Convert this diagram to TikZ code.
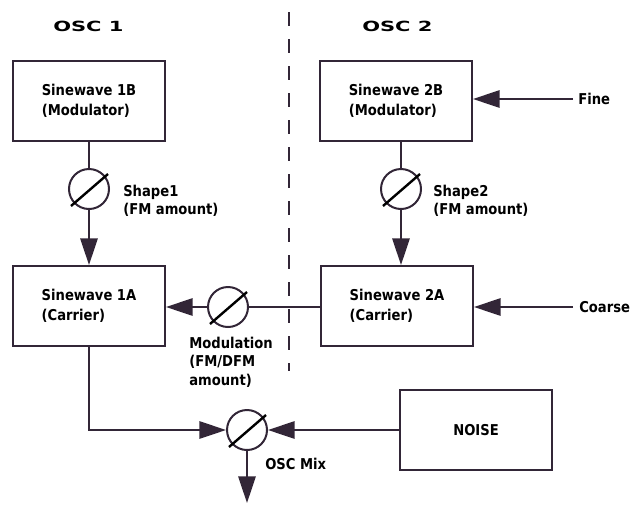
\documentclass[tikz,border=0pt]{standalone}
\usepackage{fontspec}
\setmainfont{DejaVu Sans}[FakeStretch=0.88]
\newfontfamily\oscfont{DejaVu Sans}[FakeStretch=1.5]
\usepackage{tikz}
\usetikzlibrary{arrows.meta}
\definecolor{LineaOsc}{RGB}{50,38,55}

\tikzset{
  caja/.style={draw=LineaOsc,line width=1.5pt,minimum width=114pt,minimum height=60pt,align=left,font=\bfseries\fontsize{11.2}{15}\selectfont},
  pot/.style={circle,draw=LineaOsc,line width=1.5pt,minimum size=30pt,inner sep=0pt},
  barra/.style={black,line width=1.8pt},
  conector/.style={LineaOsc,line width=1.5pt},
  etiqueta/.style={anchor=west,inner sep=0pt,align=left,font=\bfseries\fontsize{11.2}{13.8}\selectfont},
  titulo/.style={anchor=west,inner sep=0pt,font=\oscfont\bfseries\fontsize{10.5}{12}\selectfont}
}

\begin{document}
\begin{tikzpicture}[x=0.75pt,y=-0.75pt,>={Triangle[length=20pt,width=13pt]}]
  \useasboundingbox (0,0) rectangle (634,504);

  % Oscilador 1
  \node[titulo] (osc1) at (53,26) {OSC 1};
  \node[caja] (sen1B) at (89,101) {Sinewave 1B\\(Modulator)};
  \node[pot] (pot1) at (89,189) {};
  \node[etiqueta] (shape1) at (123,201) {Shape1\\(FM amount)};
  \node[caja] (sen1A) at (89,306) {Sinewave 1A\\(Carrier)};
  \draw[conector] (sen1B) -- (pot1);
  \draw[conector,->] (pot1) -- (sen1A);

  % Separador
  \draw[conector,dash pattern=on 10.5pt off 9.75pt] (289,12) -- (289,371);

  % Oscilador 2
  \node[titulo] (osc2) at (362,26) {OSC 2};
  \node[caja] (sen2B) at (396,101) {Sinewave 2B\\(Modulator)};
  \node[pot] (pot2) at (401,189) {};
  \node[etiqueta] (shape2) at (433,201) {Shape2\\(FM amount)};
  \node[caja] (sen2A) at (397,306) {Sinewave 2A\\(Carrier)};
  \node[etiqueta] (fine) at (578,99) {Fine};
  \node[etiqueta] (coarse) at (579,307) {Coarse};
  \coordinate (fineIn) at (573,99);
  \coordinate (coarseIn) at (573,307);
  \draw[conector] (sen2B.south -| pot2) -- (pot2);
  \draw[conector,->] (pot2) -- (pot2 |- sen2A.north);
  \draw[conector,->] (fineIn) -- (fineIn -| sen2B.east);
  \draw[conector,->] (coarseIn) -- (coarseIn -| sen2A.east);

  % Modulacion
  \node[pot] (potmod) at (228,307) {};
  \node[etiqueta] (modul) at (189,362) {Modulation\\(FM/DFM\\amount)};
  \draw[conector] (sen2A.west |- potmod) -- (potmod);
  \draw[conector,->] (potmod) -- (potmod -| sen1A.east);

  % Mezcla
  \node[pot] (potmix) at (247,430) {};
  \node[etiqueta] (mix) at (265,464) {OSC Mix};
  \node[caja,align=center] (ruido) at (476,430) {NOISE};
  \coordinate (salida) at (247,503);
  \draw[conector,->] (sen1A) |- (potmix);
  \draw[conector,->] (ruido) -- (potmix);
  \draw[conector,->] (potmix) -- (salida);

  \foreach \p in {pot1,pot2,potmod,potmix}
    \draw[barra] ([shift={(-18,17)}]\p.center) -- ([shift={(19,-15)}]\p.center);
\end{tikzpicture}
\end{document}
